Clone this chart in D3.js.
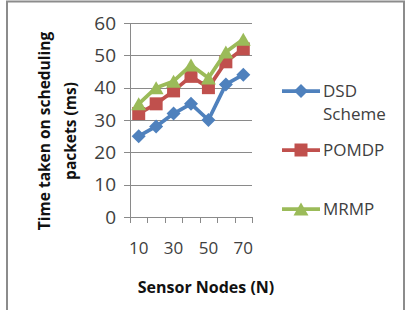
<!DOCTYPE html>
<html>
<head>
<meta charset="utf-8">
<script src="https://cdn.jsdelivr.net/npm/d3@7"></script>
<style>
  body { margin: 0; background: #fff; }
  svg text { font-family: "Open Sans", Lato, sans-serif; }
</style>
</head>
<body>
<div id="chart"></div>
<script>
// values
var categories = ["10", "20", "30", "40", "50", "60", "70"];
var tickLabels = ["10", "30", "50", "70"];
var yTicks = [0, 10, 20, 30, 40, 50, 60];
var dsd = [25, 28, 32, 35, 30, 41, 44];
var pomdp = [32, 35, 39, 43.5, 40, 48, 52];
var mrmp = [35, 40, 42, 47, 43, 51, 55];

// office style markers
var diamond = function(r){ return "M0," + (-r) + "L" + r + ",0L0," + r + "L" + (-r) + ",0Z"; };
var square = function(r){ return "M" + (-r) + "," + (-r) + "h" + (2*r) + "v" + (2*r) + "h" + (-2*r) + "Z"; };
var triangle = function(r){ return "M0," + (-r) + "L" + (r*1.15) + "," + r + "L" + (-r*1.15) + "," + r + "Z"; };

var series = [
  { name: ["DSD", "Scheme"], values: dsd, color: "#4F81BD", marker: diamond(7) },
  { name: ["POMDP"], values: pomdp, color: "#C0504D", marker: square(6.5) },
  { name: ["MRMP"], values: mrmp, color: "#9BBB59", marker: triangle(6.5) }
];

var W = 408, H = 310;
var svg = d3.select("#chart").append("svg")
  .attr("width", W).attr("height", H);

// outer frame
svg.append("rect")
  .attr("x", 7).attr("y", 1.5)
  .attr("width", 397).attr("height", 320)
  .attr("fill", "none").attr("stroke", "#8c8c8c").attr("stroke-width", 2);

var plot = { left: 130, right: 252, top: 23, bottom: 217 };

var x = d3.scaleBand().domain(categories).range([plot.left, plot.right]).padding(0);
var y = d3.scaleLinear().domain([0, 60]).range([plot.bottom, plot.top]);

// gridlines + y tick marks
svg.append("g").selectAll("line")
  .data(yTicks)
  .enter().append("line")
  .attr("x1", plot.left - 6).attr("x2", plot.right)
  .attr("y1", function(d){ return Math.round(y(d)) + 0.5; })
  .attr("y2", function(d){ return Math.round(y(d)) + 0.5; })
  .attr("stroke", "#8a8a8a").attr("stroke-width", 1);

// y axis line
svg.append("line")
  .attr("x1", plot.left + 0.5).attr("x2", plot.left + 0.5)
  .attr("y1", plot.top).attr("y2", plot.bottom)
  .attr("stroke", "#8a8a8a");

// x tick marks at category boundaries
var bounds = categories.map(function(c){ return x(c); }).concat([plot.right]);
svg.append("g").selectAll("line")
  .data(bounds)
  .enter().append("line")
  .attr("x1", function(d){ return Math.round(d) + 0.5; })
  .attr("x2", function(d){ return Math.round(d) + 0.5; })
  .attr("y1", plot.bottom).attr("y2", plot.bottom + 6)
  .attr("stroke", "#8a8a8a");

// y labels
svg.append("g").selectAll("text")
  .data(yTicks)
  .enter().append("text")
  .attr("x", 116)
  .attr("y", function(d){ return y(d); })
  .attr("dy", "0.35em")
  .attr("text-anchor", "end")
  .attr("font-size", 19)
  .attr("fill", "#404040")
  .text(function(d){ return d; });

// x labels (every other category)
svg.append("g").selectAll("text")
  .data(tickLabels)
  .enter().append("text")
  .attr("x", function(d){ return x(d) + x.bandwidth() / 2; })
  .attr("y", 248)
  .attr("dy", "0.35em")
  .attr("text-anchor", "middle")
  .attr("font-size", 17)
  .attr("fill", "#404040")
  .text(function(d){ return d; });

// axis titles
svg.append("text")
  .attr("x", 206).attr("y", 287).attr("dy", "0.35em")
  .attr("text-anchor", "middle")
  .attr("font-size", 16).attr("font-weight", "bold")
  .attr("fill", "#111")
  .text("Sensor Nodes (N)");

var yTitle = svg.append("text")
  .attr("transform", "translate(45,131) rotate(-90)")
  .attr("text-anchor", "middle")
  .attr("font-size", 15.5).attr("font-weight", "bold")
  .attr("fill", "#111");
yTitle.append("tspan").attr("x", 0).attr("dy", "0.35em").text("Time taken on scheduling");
yTitle.append("tspan").attr("x", 0).attr("dy", 26).text("packets (ms)");

// series lines + markers
var line = d3.line()
  .x(function(d, i){ return x(categories[i]) + x.bandwidth() / 2; })
  .y(function(d){ return y(d); });

series.forEach(function(s){
  var g = svg.append("g");
  g.append("path")
    .datum(s.values)
    .attr("d", line)
    .attr("fill", "none")
    .attr("stroke", s.color)
    .attr("stroke-width", 3.75)
    .attr("stroke-linejoin", "round");
  g.selectAll("path.mark")
    .data(s.values)
    .enter().append("path")
    .attr("class", "mark")
    .attr("d", s.marker)
    .attr("transform", function(d, i){
      return "translate(" + (x(categories[i]) + x.bandwidth() / 2) + "," + y(d) + ")";
    })
    .attr("fill", s.color);
});

// legend
var legendY = [91, 150, 209];
var legend = svg.append("g").selectAll("g")
  .data(series)
  .enter().append("g")
  .attr("transform", function(d, i){ return "translate(282," + legendY[i] + ")"; });
legend.append("line")
  .attr("x1", 0).attr("x2", 38)
  .attr("stroke", function(d){ return d.color; })
  .attr("stroke-width", 3.75);
legend.append("path")
  .attr("d", function(d){ return d.marker; })
  .attr("transform", "translate(19,0)")
  .attr("fill", function(d){ return d.color; });
legend.append("text")
  .attr("font-size", 17)
  .attr("fill", "#404040")
  .each(function(d){
    var t = d3.select(this);
    d.name.forEach(function(n, i){
      t.append("tspan").attr("x", 41).attr("dy", i === 0 ? "0.35em" : 23).text(n);
    });
  });
</script>
</body>
</html>
